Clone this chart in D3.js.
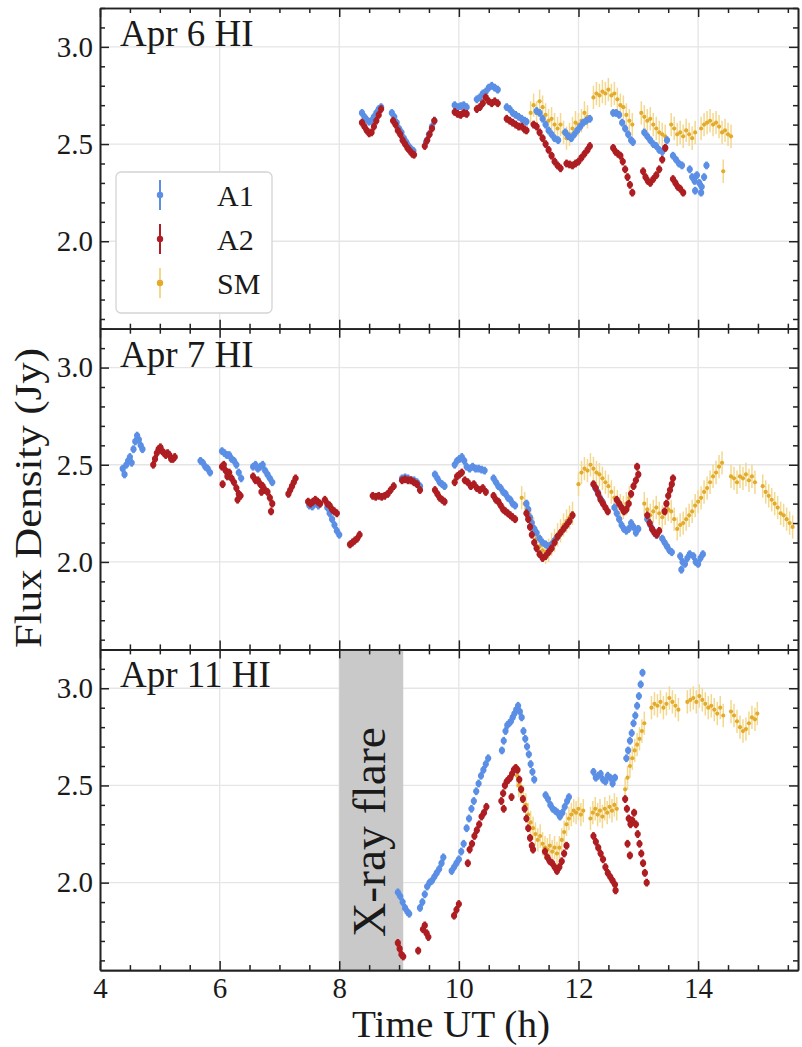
<!DOCTYPE html>
<html>
<head>
<meta charset="utf-8">
<script src="https://cdn.jsdelivr.net/npm/d3@7"></script>
<style>
  body { margin: 0; background: #fff; }
  svg { display: block; }
  text { font-family: "Liberation Serif", "DejaVu Serif", serif; fill: #1a1a1a; }
</style>
</head>
<body>
<svg id="chart" width="802" height="1047"></svg>
<script>
// ---------------------------------------------------------------------------
// 1. Data : [time UT (h), flux density (Jy)]
// ---------------------------------------------------------------------------

const panelLabels = ["Apr 6 HI", "Apr 7 HI", "Apr 11 HI"];
const seriesNames = ["A1", "A2", "SM"];
const xTicks = [4, 6, 8, 10, 12, 14];
const yTicks = [2.0, 2.5, 3.0];
const flareSpan = [8.0, 9.07];
const flareLabel = "X-ray flare";

// typical error bars
const errA = 0.02;
const errSM = 0.06;

const apr6A1 = [
  [8.38,2.66],[8.42,2.64],[8.46,2.625],[8.50,2.615],[8.54,2.62],[8.58,2.64],[8.62,2.66],[8.66,2.68],[8.70,2.69],
  [8.88,2.66],[8.92,2.64],[8.96,2.61],[9.00,2.58],[9.04,2.56],[9.08,2.53],[9.12,2.51],[9.16,2.49],[9.20,2.475],[9.24,2.465],
  [9.45,2.51],[9.50,2.55],[9.55,2.59],[9.59,2.62],
  [9.93,2.70],[9.98,2.69],[10.03,2.695],[10.08,2.70],[10.13,2.69],
  [10.30,2.73],[10.35,2.74],[10.40,2.76],[10.45,2.77],[10.50,2.79],[10.55,2.80],[10.60,2.79],[10.65,2.78],
  [10.80,2.69],[10.85,2.68],[10.90,2.66],[10.95,2.65],[11.00,2.64],[11.05,2.63],[11.10,2.62],[11.13,2.615],
  [11.30,2.67],[11.35,2.66],[11.40,2.63],[11.45,2.60],[11.50,2.57],[11.55,2.55],[11.60,2.53],[11.66,2.52],
  [11.78,2.56],[11.83,2.54],[11.88,2.53],[11.93,2.55],[11.98,2.57],[12.03,2.59],[12.08,2.61],[12.13,2.62],[12.19,2.63],
  [12.58,2.66],[12.63,2.66],[12.68,2.65],[12.73,2.61],[12.78,2.58],[12.83,2.55],[12.88,2.52],[12.91,2.51],
  [13.10,2.56],[13.15,2.54],[13.20,2.52],[13.25,2.50],[13.30,2.49],[13.35,2.47],[13.40,2.46],[13.45,2.48],[13.48,2.52],
  [13.58,2.44],[13.63,2.42],[13.68,2.40],[13.73,2.39],
  [13.86,2.37],[13.90,2.33],[13.94,2.31],[13.98,2.34],[14.02,2.30],[14.06,2.28],[14.10,2.33],[14.14,2.39],[13.95,2.26],[14.05,2.25]
];
const apr6A2 = [
  [8.38,2.61],[8.42,2.59],[8.46,2.57],[8.50,2.555],[8.54,2.56],[8.58,2.59],[8.62,2.62],[8.66,2.65],[8.70,2.68],
  [8.90,2.62],[8.94,2.60],[8.98,2.57],[9.02,2.55],[9.06,2.52],[9.10,2.50],[9.14,2.48],[9.18,2.465],[9.22,2.45],[9.25,2.445],
  [9.43,2.49],[9.47,2.52],[9.51,2.55],[9.55,2.58],[9.59,2.62],
  [9.93,2.665],[9.98,2.655],[10.03,2.65],[10.08,2.66],[10.13,2.655],
  [10.30,2.68],[10.35,2.69],[10.40,2.71],[10.45,2.74],[10.50,2.72],[10.55,2.71],[10.60,2.72],[10.65,2.71],
  [10.80,2.63],[10.85,2.62],[10.90,2.61],[10.95,2.60],[11.00,2.59],[11.05,2.59],[11.10,2.575],[11.13,2.57],
  [11.25,2.60],[11.30,2.59],[11.35,2.56],[11.40,2.53],[11.45,2.50],[11.50,2.47],[11.55,2.44],[11.60,2.41],[11.65,2.39],[11.70,2.375],
  [11.80,2.40],[11.85,2.395],[11.90,2.39],[11.95,2.40],[12.00,2.41],[12.05,2.43],[12.10,2.45],[12.15,2.47],[12.19,2.49],
  [12.58,2.48],[12.62,2.46],[12.66,2.45],[12.70,2.44],[12.74,2.41],[12.78,2.37],[12.82,2.33],[12.86,2.29],[12.90,2.25],
  [13.08,2.36],[13.12,2.33],[13.16,2.31],[13.20,2.30],[13.25,2.32],[13.30,2.34],[13.35,2.37],[13.40,2.42],[13.45,2.48],
  [13.58,2.32],[13.62,2.30],[13.66,2.28],[13.70,2.27],[13.75,2.25]
];
const apr6SM = [
  [11.20,2.66],[11.25,2.70],[11.30,2.66],[11.35,2.72],[11.40,2.69],[11.45,2.65],[11.50,2.62],[11.55,2.63],[11.60,2.60],[11.65,2.58],
  [11.70,2.60],[11.75,2.56],[11.80,2.53],[11.85,2.55],[11.90,2.58],[11.95,2.61],[12.00,2.60],[12.05,2.62],[12.10,2.66],[12.15,2.64],
  [12.25,2.74],[12.30,2.76],[12.35,2.75],[12.40,2.77],[12.45,2.76],[12.50,2.78],[12.55,2.75],[12.60,2.76],[12.65,2.73],[12.70,2.70],
  [12.75,2.69],[12.80,2.65],[12.85,2.62],[12.90,2.60],
  [13.05,2.66],[13.10,2.64],[13.15,2.62],[13.20,2.63],[13.25,2.60],[13.30,2.58],[13.35,2.56],[13.40,2.55],[13.45,2.54],
  [13.55,2.60],[13.60,2.58],[13.65,2.55],[13.70,2.56],[13.75,2.54],[13.80,2.57],[13.85,2.55],[13.90,2.53],[13.95,2.56],
  [14.05,2.58],[14.10,2.60],[14.15,2.61],[14.20,2.62],[14.25,2.60],[14.30,2.61],[14.35,2.59],[14.40,2.56],[14.45,2.57],[14.50,2.55],[14.55,2.54],
  [14.42,2.36]
];

const apr7A1 = [
  [4.38,2.48],[4.41,2.45],[4.44,2.50],[4.47,2.52],[4.50,2.54],[4.53,2.51],
  [4.56,2.58],[4.59,2.62],[4.62,2.65],[4.65,2.63],[4.68,2.60],[4.71,2.58],
  [5.68,2.52],[5.72,2.51],[5.76,2.49],[5.80,2.48],[5.84,2.46],
  [6.04,2.57],[6.08,2.56],[6.12,2.55],[6.16,2.55],[6.20,2.53],[6.24,2.52],[6.28,2.50],[6.32,2.46],[6.36,2.43],
  [6.56,2.49],[6.60,2.50],[6.64,2.48],[6.68,2.49],[6.72,2.50],[6.76,2.47],[6.80,2.45],[6.84,2.43],[6.88,2.41],
  [7.50,2.29],[7.55,2.285],[7.60,2.30],[7.65,2.29],
  [7.80,2.28],[7.84,2.25],[7.88,2.22],[7.92,2.19],[7.96,2.16],[8.00,2.14],
  [9.05,2.43],[9.10,2.435],[9.15,2.43],[9.20,2.42],[9.25,2.42],[9.30,2.41],[9.35,2.39],
  [9.60,2.45],[9.64,2.43],[9.68,2.41],[9.72,2.40],[9.76,2.39],
  [9.93,2.50],[9.97,2.52],[10.01,2.53],[10.05,2.54],[10.09,2.52],[10.13,2.49],[10.18,2.48],[10.23,2.49],[10.28,2.48],[10.33,2.48],[10.38,2.475],[10.43,2.47],
  [10.58,2.43],[10.62,2.41],[10.66,2.39],[10.70,2.38],[10.74,2.36],[10.78,2.35],[10.82,2.33],[10.86,2.32],[10.90,2.30],[10.94,2.29],
  [11.13,2.30],[11.16,2.27],[11.19,2.23],[11.22,2.20],[11.26,2.17],[11.30,2.15],[11.35,2.12],[11.40,2.10],[11.45,2.09],[11.50,2.08],[11.55,2.09],[11.60,2.11],[11.65,2.13],
  [12.28,2.38],[12.32,2.36],[12.36,2.33],[12.40,2.31],
  [12.60,2.28],[12.64,2.25],[12.68,2.22],[12.72,2.19],[12.76,2.17],[12.80,2.16],[12.84,2.17],[12.88,2.20],[12.92,2.18],[12.96,2.15],[13.00,2.17],
  [13.15,2.22],[13.20,2.19],[13.25,2.16],[13.30,2.14],
  [13.40,2.12],[13.44,2.10],[13.48,2.08],[13.52,2.06],[13.56,2.05],
  [13.70,2.03],[13.74,2.00],[13.78,1.99],[13.82,2.02],[13.86,2.04],[13.92,2.03],[13.96,2.00],[14.00,1.99],[14.04,2.02],[14.08,2.04],[13.72,1.96]
];
const apr7A2 = [
  [4.89,2.50],[4.92,2.53],[4.95,2.56],[4.98,2.58],[5.01,2.59],[5.04,2.57],[5.07,2.56],[5.10,2.55],[5.13,2.56],[5.16,2.55],[5.19,2.53],[5.22,2.53],[5.25,2.54],
  [6.04,2.49],[6.07,2.50],[6.10,2.47],[6.13,2.44],[6.16,2.46],[6.20,2.43],[6.24,2.41],[6.28,2.38],[6.32,2.35],[6.35,2.34],[6.05,2.40],[6.30,2.32],
  [6.56,2.44],[6.60,2.42],[6.64,2.42],[6.68,2.40],[6.72,2.39],[6.76,2.37],[6.80,2.36],[6.84,2.33],[6.88,2.30],[6.70,2.36],[6.86,2.26],
  [7.15,2.35],[7.18,2.37],[7.21,2.39],[7.24,2.41],[7.27,2.43],
  [7.48,2.31],[7.52,2.30],[7.56,2.31],[7.60,2.32],[7.64,2.31],[7.68,2.30],
  [7.76,2.32],[7.80,2.30],[7.84,2.29],[7.88,2.27],[7.92,2.26],[7.96,2.25],
  [8.18,2.09],[8.22,2.10],[8.26,2.11],[8.30,2.12],[8.34,2.14],
  [8.56,2.34],[8.61,2.335],[8.66,2.34],[8.71,2.335],[8.76,2.34],[8.81,2.35],[8.86,2.37],[8.91,2.39],
  [9.05,2.42],[9.10,2.425],[9.15,2.42],[9.20,2.42],[9.25,2.41],[9.30,2.40],[9.35,2.37],
  [9.60,2.37],[9.64,2.35],[9.68,2.33],[9.72,2.32],[9.76,2.31],
  [9.93,2.41],[9.97,2.44],[10.01,2.45],[10.05,2.46],[10.10,2.42],[10.15,2.41],[10.20,2.39],[10.25,2.40],[10.30,2.38],[10.35,2.37],[10.40,2.38],[10.45,2.36],
  [10.58,2.34],[10.62,2.32],[10.66,2.31],[10.70,2.29],[10.74,2.27],[10.78,2.26],[10.82,2.25],[10.86,2.24],[10.90,2.23],[10.94,2.22],
  [11.13,2.25],[11.16,2.22],[11.19,2.18],[11.22,2.14],[11.26,2.10],[11.30,2.07],[11.35,2.04],[11.40,2.02],[11.45,2.03],[11.50,2.05],
  [11.55,2.07],[11.60,2.10],[11.65,2.13],[11.70,2.15],[11.75,2.17],[11.80,2.19],[11.85,2.21],[11.90,2.24],
  [12.25,2.40],[12.29,2.38],[12.33,2.35],[12.37,2.32],[12.41,2.30],[12.45,2.28],[12.49,2.26],
  [12.64,2.32],[12.68,2.30],[12.72,2.28],[12.76,2.26],[12.80,2.27],[12.84,2.30],[12.88,2.35],[12.92,2.39],[12.96,2.42],[13.00,2.45],[12.98,2.49],
  [13.15,2.24],[13.19,2.20],[13.23,2.17],[13.27,2.15],[13.31,2.14],[13.35,2.16],
  [13.44,2.26],[13.47,2.30],[13.50,2.34],[13.53,2.37],[13.56,2.40],[13.58,2.43]
];
const apr7SM = [
  [11.05,2.33],[11.10,2.30],[11.15,2.26],[11.20,2.21],[11.25,2.17],[11.30,2.12],[11.35,2.08],[11.40,2.06],[11.45,2.05],[11.50,2.06],
  [11.55,2.09],[11.60,2.11],[11.65,2.14],[11.70,2.16],[11.75,2.19],[11.80,2.21],[11.85,2.23],[11.90,2.25],
  [12.00,2.40],[12.05,2.46],[12.10,2.48],[12.15,2.47],[12.20,2.50],[12.25,2.48],[12.30,2.46],[12.35,2.45],[12.40,2.43],[12.45,2.41],
  [12.50,2.39],[12.55,2.36],[12.60,2.33],[12.65,2.31],[12.70,2.29],[12.75,2.28],[12.80,2.30],[12.85,2.33],
  [13.10,2.30],[13.15,2.27],[13.20,2.24],[13.25,2.26],[13.30,2.28],[13.35,2.25],[13.40,2.23],[13.45,2.25],[13.50,2.27],[13.55,2.26],[13.60,2.22],
  [13.65,2.17],[13.70,2.19],[13.75,2.20],[13.80,2.22],[13.85,2.24],[13.90,2.26],[13.95,2.29],[14.00,2.31],[14.05,2.33],[14.10,2.36],
  [14.15,2.38],[14.20,2.41],[14.25,2.44],[14.30,2.46],[14.35,2.49],[14.40,2.51],
  [14.55,2.44],[14.60,2.43],[14.65,2.41],[14.70,2.44],[14.75,2.43],[14.80,2.45],[14.85,2.42],[14.90,2.44],[14.95,2.41],
  [15.08,2.39],[15.13,2.36],[15.18,2.34],[15.23,2.32],[15.28,2.30],[15.33,2.28],[15.38,2.25],[15.43,2.24],[15.48,2.22],[15.53,2.20],[15.58,2.18]
];

const apr11A1 = [
  [8.98,1.95],[9.02,1.93],[9.06,1.90],[9.10,1.87],[9.14,1.85],[9.17,1.84],
  [9.35,1.87],[9.39,1.90],[9.43,1.94],[9.47,1.98],[9.51,2.00],[9.55,2.01],[9.59,2.03],[9.63,2.05],[9.67,2.07],[9.71,2.10],[9.74,2.13],
  [9.88,2.06],[9.92,2.08],[9.96,2.10],[10.00,2.12],[10.04,2.16],[10.08,2.20],
  [10.13,2.28],[10.17,2.33],[10.21,2.38],[10.25,2.42],[10.29,2.47],[10.33,2.51],[10.37,2.55],[10.41,2.58],[10.45,2.61],[10.49,2.64],
  [10.72,2.68],[10.75,2.73],[10.78,2.78],[10.81,2.81],[10.84,2.82],[10.87,2.83],[10.90,2.85],[10.93,2.87],[10.96,2.89],[10.99,2.91],[11.02,2.88],[11.05,2.85],
  [11.08,2.78],[11.11,2.74],[11.14,2.70],[11.17,2.66],[11.20,2.61],[11.23,2.57],[11.26,2.53],
  [11.45,2.45],[11.49,2.43],[11.53,2.40],[11.57,2.38],[11.61,2.37],[11.65,2.36],[11.69,2.34],[11.73,2.36],[11.77,2.39],[11.81,2.42],[11.84,2.44],
  [12.25,2.57],[12.29,2.54],[12.33,2.55],[12.37,2.56],[12.41,2.53],[12.45,2.52],[12.49,2.55],[12.53,2.54],[12.57,2.51],[12.61,2.54],
  [12.80,2.64],[12.83,2.68],[12.86,2.73],[12.89,2.77],[12.92,2.82],[12.95,2.86],[12.98,2.91],[13.01,2.96],[13.04,3.02],[13.07,3.08]
];
const apr11A2 = [
  [8.98,1.69],[9.01,1.66],[9.04,1.63],[9.07,1.62],
  [9.32,1.65],[9.40,1.76],[9.43,1.78],[9.46,1.74],[9.49,1.72],
  [9.92,1.83],[9.96,1.86],[10.00,1.89],
  [10.15,2.10],[10.18,2.17],[10.22,2.20],[10.26,2.24],[10.30,2.27],[10.34,2.30],[10.38,2.34],[10.42,2.36],[10.46,2.39],
  [10.71,2.42],[10.74,2.46],[10.77,2.50],[10.80,2.52],[10.83,2.53],[10.86,2.54],[10.89,2.56],[10.92,2.58],[10.95,2.59],[10.98,2.58],
  [11.01,2.53],[11.04,2.48],[11.07,2.43],[11.10,2.38],[11.13,2.33],[11.16,2.28],[11.19,2.23],[11.22,2.19],[11.24,2.17],[10.75,2.38],[10.88,2.44],
  [11.44,2.16],[11.48,2.13],[11.52,2.11],[11.56,2.10],[11.60,2.08],[11.64,2.06],[11.68,2.08],[11.72,2.11],[11.76,2.15],[11.80,2.19],
  [12.25,2.24],[12.29,2.21],[12.33,2.18],[12.37,2.15],[12.41,2.12],[12.45,2.08],[12.49,2.05],[12.53,2.03],[12.57,2.01],[12.61,1.99],[12.62,1.96],
  [12.78,2.43],[12.81,2.38],[12.84,2.33],[12.87,2.30],[12.90,2.32],[12.93,2.36],[12.96,2.30],[12.99,2.25],[13.02,2.20],[13.05,2.15],
  [13.08,2.10],[13.11,2.05],[13.14,2.00],[12.82,2.20],[12.86,2.14]
];
const apr11SM = [
  [10.97,2.55],[11.00,2.50],[11.04,2.47],[11.08,2.44],[11.12,2.40],[11.16,2.35],[11.20,2.31],[11.24,2.28],[11.28,2.25],[11.32,2.22],
  [11.36,2.24],[11.40,2.20],[11.44,2.18],[11.48,2.17],[11.52,2.19],[11.56,2.16],[11.60,2.18],[11.64,2.15],[11.68,2.18],[11.72,2.22],
  [11.76,2.26],[11.80,2.30],[11.84,2.33],[11.88,2.35],[11.92,2.37],[11.96,2.36],[12.00,2.38],[12.04,2.35],[12.08,2.37],
  [12.20,2.33],[12.24,2.36],[12.28,2.38],[12.32,2.35],[12.36,2.37],[12.40,2.34],[12.44,2.38],[12.48,2.36],[12.52,2.39],[12.56,2.37],[12.60,2.40],[12.64,2.38],
  [12.78,2.48],[12.82,2.54],[12.86,2.60],[12.90,2.64],[12.94,2.68],[12.98,2.71],[13.02,2.74],[13.06,2.78],[13.10,2.82],
  [13.22,2.90],[13.27,2.92],[13.32,2.91],[13.37,2.93],[13.42,2.90],[13.47,2.92],[13.52,2.95],[13.57,2.93],[13.62,2.91],[13.67,2.89],
  [13.82,2.93],[13.87,2.94],[13.92,2.95],[13.97,2.93],[14.02,2.96],[14.07,2.94],[14.12,2.92],[14.17,2.90],[14.22,2.91],[14.27,2.89],
  [14.32,2.87],[14.37,2.90],[14.42,2.86],
  [14.55,2.88],[14.60,2.86],[14.65,2.83],[14.70,2.80],[14.75,2.78],[14.80,2.79],[14.85,2.82],[14.90,2.85],[14.95,2.84],[14.99,2.87]
];

// ---------------------------------------------------------------------------
// 2. Layout and scales
// ---------------------------------------------------------------------------

const svg = d3.select("#chart");
const plotLeft = 100, plotRight = 798, plotTop = 8;
const panelH = 320.7;

const colors = { A1: "#5b8fe5", A2: "#ad1d22", SM: "#e3ab2c", SMerr: "#f3d88e" };

const x = d3.scaleLinear().domain([4, 15.67]).range([plotLeft, plotRight]);
const y = d3.scaleLinear().domain([1.55, 3.2]).range([panelH, 0]);

const xMinor = d3.range(4.5, 15.67, 0.5).filter(v => v % 2 !== 0);
const yMinor = d3.range(1.6, 3.21, 0.1).map(v => +v.toFixed(1)).filter(v => !yTicks.includes(v));

const panels = [
  { label: panelLabels[0], A1: apr6A1, A2: apr6A2, SM: apr6SM },
  { label: panelLabels[1], A1: apr7A1, A2: apr7A2, SM: apr7SM },
  { label: panelLabels[2], A1: apr11A1, A2: apr11A2, SM: apr11SM, flare: true }
];

// ---------------------------------------------------------------------------
// 3. Panels
// ---------------------------------------------------------------------------

panels.forEach((p, i) => {
  const g = svg.append("g").attr("transform", `translate(0,${plotTop + i * panelH})`);
  const last = i === panels.length - 1;

  // grid
  g.selectAll("line.vgrid").data(xTicks.slice(1)).enter().append("line")
    .attr("x1", d => x(d)).attr("x2", d => x(d)).attr("y1", 0).attr("y2", panelH)
    .attr("stroke", "#e5e5e5").attr("stroke-width", 1.3);
  g.selectAll("line.hgrid").data(yTicks).enter().append("line")
    .attr("x1", plotLeft).attr("x2", plotRight).attr("y1", d => y(d)).attr("y2", d => y(d))
    .attr("stroke", "#e5e5e5").attr("stroke-width", 1.3);

  // shaded flare window
  if (p.flare) {
    g.append("rect")
      .attr("x", x(flareSpan[0])).attr("y", 0)
      .attr("width", x(flareSpan[1]) - x(flareSpan[0])).attr("height", panelH)
      .attr("fill", "#c9c9c9");
    g.append("text")
      .attr("transform", `translate(${x(flareSpan[0]) + 46},${y(2.26)}) rotate(-90)`)
      .attr("text-anchor", "middle")
      .attr("textLength", 210).attr("lengthAdjust", "spacingAndGlyphs")
      .style("font-size", "47px")
      .text(flareLabel);
  }

  // SM: pale error bars then dots
  g.selectAll("line.smerr").data(p.SM).enter().append("line")
    .attr("x1", d => x(d[0])).attr("x2", d => x(d[0]))
    .attr("y1", d => y(d[1] - errSM)).attr("y2", d => y(d[1] + errSM))
    .attr("stroke", colors.SMerr).attr("stroke-width", 1.5);
  g.selectAll("circle.sm").data(p.SM).enter().append("circle")
    .attr("cx", d => x(d[0])).attr("cy", d => y(d[1])).attr("r", 2.1)
    .attr("fill", colors.SM);

  // A1 and A2
  ["A1", "A2"].forEach(k => {
    g.selectAll(`line.err${k}`).data(p[k]).enter().append("line")
      .attr("x1", d => x(d[0])).attr("x2", d => x(d[0]))
      .attr("y1", d => y(d[1] - errA)).attr("y2", d => y(d[1] + errA))
      .attr("stroke", colors[k]).attr("stroke-width", 2.6);
    g.selectAll(`circle.${k}`).data(p[k]).enter().append("circle")
      .attr("cx", d => x(d[0])).attr("cy", d => y(d[1])).attr("r", 3.1)
      .attr("fill", colors[k]);
  });

  // axes, ticks pointing inwards on all four sides
  const addAxis = (axis, tx, ty, size, fmt) => {
    const a = g.append("g").attr("transform", `translate(${tx},${ty})`)
      .call(axis.tickSize(-size).tickSizeOuter(0).tickFormat(fmt || ""));
    a.select(".domain").attr("stroke", "#222").attr("stroke-width", 1.6);
    a.selectAll(".tick line").attr("stroke", "#222").attr("stroke-width", 1.5);
    a.selectAll("text").style("font-size", "29px").attr("fill", "#2a2a2a").style("font-family", "Liberation Serif, serif");
    return a;
  };
  addAxis(d3.axisLeft(y).tickValues(yTicks).tickPadding(7), plotLeft, 0, 9, d3.format(".1f"));
  addAxis(d3.axisLeft(y).tickValues(yMinor), plotLeft, 0, 5);
  addAxis(d3.axisRight(y).tickValues(yTicks), plotRight, 0, 9);
  addAxis(d3.axisRight(y).tickValues(yMinor), plotRight, 0, 5);
  addAxis(d3.axisTop(x).tickValues(xTicks), 0, 0, 9);
  addAxis(d3.axisTop(x).tickValues(xMinor), 0, 0, 5);
  addAxis(d3.axisBottom(x).tickValues(xTicks).tickPadding(7), 0, panelH, 9, last ? d3.format("d") : null);
  addAxis(d3.axisBottom(x).tickValues(xMinor), 0, panelH, 5);

  // panel label
  g.append("text")
    .attr("x", 120).attr("y", 38)
    .style("font-size", "37px")
    .text(p.label);
});

// ---------------------------------------------------------------------------
// 4. Legend (first panel)
// ---------------------------------------------------------------------------

const legend = svg.append("g").attr("transform", "translate(116,172)");
legend.append("rect")
  .attr("width", 156).attr("height", 141).attr("rx", 5)
  .attr("fill", "#fff").attr("stroke", "#d4d4d4").attr("stroke-width", 1.3);
seriesNames.forEach((name, i) => {
  const row = legend.append("g").attr("transform", `translate(44,${23 + i * 44})`);
  row.append("line").attr("y1", -15).attr("y2", 15)
    .attr("stroke", name === "SM" ? colors.SMerr : colors[name]).attr("stroke-width", 2);
  row.append("circle").attr("r", 3.2).attr("fill", colors[name]);
  row.append("text").attr("x", 57).attr("dy", "0.36em")
    .style("font-size", "30px").text(name);
});

// ---------------------------------------------------------------------------
// 5. Axis titles
// ---------------------------------------------------------------------------

svg.append("text")
  .attr("x", 451).attr("y", 1037)
  .attr("text-anchor", "middle")
  .attr("textLength", 198).attr("lengthAdjust", "spacingAndGlyphs")
  .style("font-size", "37px")
  .text("Time UT (h)");

svg.append("text")
  .attr("transform", "translate(41,498) rotate(-90)")
  .attr("text-anchor", "middle")
  .attr("textLength", 300).attr("lengthAdjust", "spacingAndGlyphs")
  .style("font-size", "37px")
  .text("Flux Density (Jy)");
</script>
</body>
</html>
